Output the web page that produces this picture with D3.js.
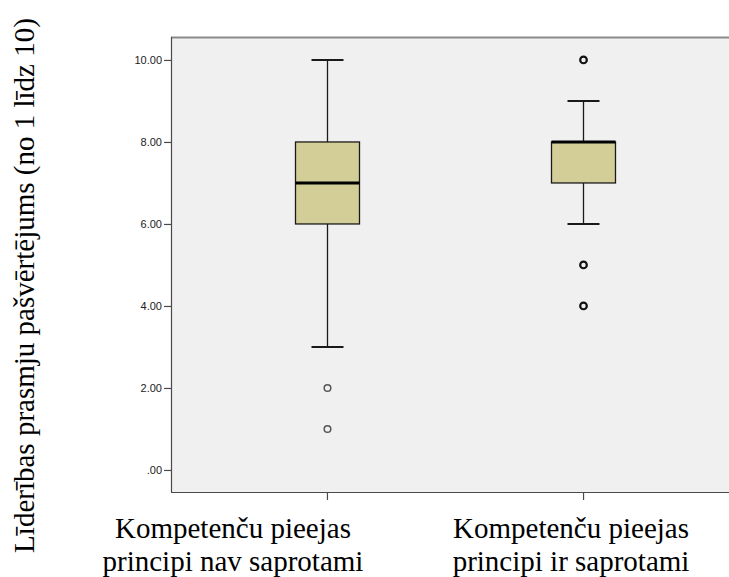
<!DOCTYPE html>
<html>
<head>
<meta charset="utf-8">
<script src="https://cdn.jsdelivr.net/npm/d3@7"></script>
<style>
  html, body { margin: 0; padding: 0; background: #ffffff; }
  svg { display: block; }
</style>
</head>
<body>
<svg id="chart" width="729" height="577"></svg>
<script>
// ---- data ----
const categories = ["nav", "ir"];
const categoryLabels = [
  ["Kompetenču pieejas", "principi nav saprotami"],
  ["Kompetenču pieejas", "principi ir saprotami"]
];
const whiskerLow = [3, 6];
const q1 = [6, 7];
const median = [7, 8];
const q3 = [8, 8];
const whiskerHigh = [10, 9];
const outliers = [[2, 1], [10, 5, 4]];
const yTickValues = [0, 2, 4, 6, 8, 10];
const yTickLabels = [".00", "2.00", "4.00", "6.00", "8.00", "10.00"];
const yTitle = "Līderības prasmju pašvērtējums (no 1 līdz 10)";

// ---- layout ----
const W = 729, H = 577;
const plot = { left: 171, right: 739, top: 37, bottom: 492 };
const svg = d3.select("#chart");

const x = d3.scalePoint().domain(categories).range([plot.left, plot.right]).padding(0.609);
const y = d3.scaleLinear().domain([-0.537, 10.56]).range([plot.bottom, plot.top]);

const boxW = 64, capW = 32;

// background
svg.append("rect")
  .attr("x", plot.left).attr("y", plot.top)
  .attr("width", plot.right - plot.left).attr("height", plot.bottom - plot.top)
  .attr("fill", "#f0f0f0");

// top border
svg.append("line")
  .attr("x1", plot.left).attr("x2", plot.right)
  .attr("y1", plot.top + 0.5).attr("y2", plot.top + 0.5)
  .attr("stroke", "#8a8a8a").attr("stroke-width", 2);

// y axis
const yAxis = d3.axisLeft(y)
  .tickValues(yTickValues)
  .tickFormat((d, i) => yTickLabels[i])
  .tickSize(7).tickSizeOuter(0).tickPadding(2);
const gy = svg.append("g").attr("transform", `translate(${plot.left},0)`).call(yAxis);
gy.select(".domain").attr("stroke", "#4a4a4a").attr("stroke-width", 1.2)
  .attr("d", `M0.5,${plot.top}V${plot.bottom}`);
gy.selectAll(".tick line").attr("stroke", "#4a4a4a").attr("stroke-width", 1.2);
gy.selectAll(".tick text")
  .attr("font-family", "'Liberation Sans', Arial, sans-serif")
  .attr("font-size", 11).attr("fill", "#222");

// x axis
const xAxis = d3.axisBottom(x).tickSize(8).tickSizeOuter(0).tickFormat("");
const gx = svg.append("g").attr("transform", `translate(0,${plot.bottom})`).call(xAxis);
gx.select(".domain").attr("stroke", "#4a4a4a").attr("stroke-width", 1.2)
  .attr("d", `M${plot.left},0.5H${plot.right}`);
gx.selectAll(".tick line").attr("stroke", "#4a4a4a").attr("stroke-width", 1.2);

// boxes
const data = categories.map((c, i) => ({
  c, lo: whiskerLow[i], q1: q1[i], med: median[i], q3: q3[i], hi: whiskerHigh[i], out: outliers[i], i
}));

const g = svg.append("g");
data.forEach(d => {
  const cx = Math.round(x(d.c)) + 0.5;
  // whiskers
  g.append("line").attr("x1", cx).attr("x2", cx).attr("y1", y(d.hi)).attr("y2", y(d.q3))
    .attr("stroke", "#1a1a1a").attr("stroke-width", 1.3);
  g.append("line").attr("x1", cx).attr("x2", cx).attr("y1", y(d.q1)).attr("y2", y(d.lo))
    .attr("stroke", "#1a1a1a").attr("stroke-width", 1.3);
  g.append("line").attr("x1", cx - capW / 2).attr("x2", cx + capW / 2).attr("y1", y(d.hi)).attr("y2", y(d.hi))
    .attr("stroke", "#1a1a1a").attr("stroke-width", 2);
  g.append("line").attr("x1", cx - capW / 2).attr("x2", cx + capW / 2).attr("y1", y(d.lo)).attr("y2", y(d.lo))
    .attr("stroke", "#1a1a1a").attr("stroke-width", 2);
  // box
  g.append("rect")
    .attr("x", cx - boxW / 2).attr("y", y(d.q3))
    .attr("width", boxW).attr("height", y(d.q1) - y(d.q3))
    .attr("fill", "#d3ce97").attr("stroke", "#1a1a1a").attr("stroke-width", 1.3);
  // median
  g.append("line").attr("x1", cx - boxW / 2).attr("x2", cx + boxW / 2).attr("y1", y(d.med)).attr("y2", y(d.med))
    .attr("stroke", "#000").attr("stroke-width", 3);
  // outliers
  d.out.forEach(v => {
    g.append("circle").attr("cx", cx).attr("cy", y(v)).attr("r", 3.3)
      .attr("fill", "none")
      .attr("stroke", d.i === 0 ? "#555" : "#111")
      .attr("stroke-width", d.i === 0 ? 1.5 : 2.2);
  });
});

// category labels
const labelOffsets = [-94, -12];
categories.forEach((c, i) => {
  const t = svg.append("text")
    .attr("font-family", "'Liberation Serif', 'Times New Roman', serif")
    .attr("font-size", 29).attr("fill", "#000").attr("text-anchor", "middle");
  categoryLabels[i].forEach((line, j) => {
    t.append("tspan").attr("x", x(c) + labelOffsets[i]).attr("y", 538 + j * 32.5).text(line);
  });
});

// y title
svg.append("text")
  .attr("transform", `translate(34,285.5) rotate(-90)`)
  .attr("font-family", "'Liberation Serif', 'Times New Roman', serif")
  .attr("font-size", 29).attr("fill", "#000").attr("text-anchor", "middle")
  .text(yTitle);
</script>
</body>
</html>
